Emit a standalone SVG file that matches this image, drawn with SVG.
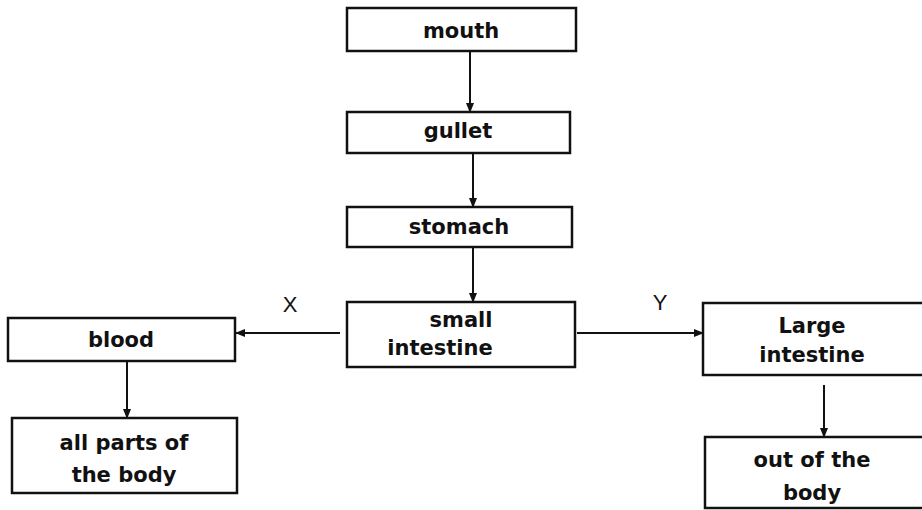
<svg xmlns="http://www.w3.org/2000/svg" width="922" height="510" viewBox="0 0 922 510">
<style>
.box{fill:#fff;stroke:#111;stroke-width:2.5}
.t{font-family:"DejaVu Sans","Liberation Sans",Arial,sans-serif;font-size:21px;font-weight:bold;fill:#111;text-anchor:middle}
.l{font-family:"Liberation Sans",Arial,sans-serif;font-size:22px;fill:#111;text-anchor:middle}
.c{stroke:#111;stroke-width:2;fill:none;marker-end:url(#ah)}
</style>
<defs>
<marker id="ah" viewBox="0 0 10 10" refX="9" refY="5" markerWidth="5" markerHeight="5" orient="auto"><path d="M0,1 L10,5 L0,9 z" fill="#111"/></marker>
</defs>
<rect width="922" height="510" fill="#fff"/>
<g id="mouth"><rect class="box" x="347" y="8" width="229" height="43"/><text class="t" x="461" y="38">mouth</text></g>
<g id="gullet"><rect class="box" x="347" y="112" width="223" height="41"/><text class="t" x="458" y="138">gullet</text></g>
<g id="stomach"><rect class="box" x="347" y="207" width="225" height="40"/><text class="t" x="459" y="234">stomach</text></g>
<g id="small"><rect class="box" x="347" y="302" width="228" height="65"/><text class="t" x="461" y="327">small</text><text class="t" x="440" y="355">intestine</text></g>
<g id="blood"><rect class="box" x="8" y="318" width="227" height="43"/><text class="t" x="121" y="347">blood</text></g>
<g id="allparts"><rect class="box" x="12" y="418" width="225" height="75"/><text class="t" x="124" y="450">all parts of</text><text class="t" x="124" y="482">the body</text></g>
<g id="large"><rect class="box" x="703" y="303" width="225" height="72"/><text class="t" x="812" y="333">Large</text><text class="t" x="812" y="362">intestine</text></g>
<g id="out"><rect class="box" x="705" y="437" width="225" height="71"/><text class="t" x="812" y="467">out of the</text><text class="t" x="812" y="500">body</text></g>
<g id="connectors">
<line class="c" x1="470" y1="51" x2="470" y2="112"/>
<line class="c" x1="473" y1="153" x2="473" y2="207"/>
<line class="c" x1="473" y1="247" x2="473" y2="302"/>
<line class="c" x1="340" y1="333" x2="236" y2="333"/>
<line class="c" x1="577" y1="333" x2="703" y2="333"/>
<line class="c" x1="127" y1="361" x2="127" y2="418"/>
<line class="c" x1="824" y1="385" x2="824" y2="437"/>
<text class="l" x="290" y="312">X</text>
<text class="l" x="660" y="310">Y</text>
</g>
</svg>
